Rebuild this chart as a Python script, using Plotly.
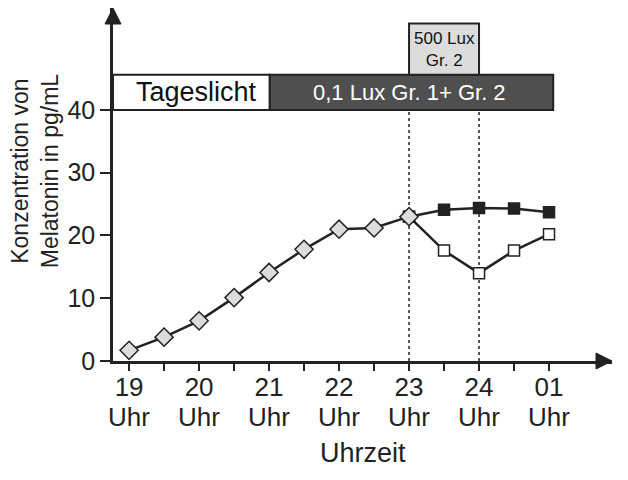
import plotly.graph_objects as go

# ===== DATA =====
hours_day = [19, 19.5, 20, 20.5, 21, 21.5, 22, 22.5, 23]
mel_day = [1.7, 3.8, 6.4, 10.1, 14.1, 17.8, 21.0, 21.2, 23.0]

hours_night = [23, 23.5, 24, 24.5, 25]
mel_gr1 = [23.0, 24.1, 24.4, 24.3, 23.7]   # 0,1 Lux (gefuellte Quadrate)
mel_gr2 = [23.0, 17.6, 14.0, 17.6, 20.2]   # 500 Lux (offene Quadrate)

hour_ticks = [19, 20, 21, 22, 23, 24, 25]
hour_labels = ["19", "20", "21", "22", "23", "24", "01"]
y_ticks = [0, 10, 20, 30, 40]

# Lichtphasen (Beginn/Ende in Stunden)
phase_day = [18.77, 21.01]
phase_dark = [21.01, 25.06]
phase_lux = [23, 24]

# ===== SETTINGS =====
FONT = "Liberation Sans, Arial, sans-serif"
INK = "#222222"
X_RANGE = [18.77, 25.9]
Y_RANGE = [0, 56.25]
PLOT_W, PLOT_H = 499, 353   # Pixel der Plotflaeche

fig = go.Figure()

# Schwarze Quadrate (Gr. 1)
fig.add_trace(go.Scatter(
    x=hours_night, y=mel_gr1, mode="lines+markers",
    line=dict(color=INK, width=2.5),
    marker=dict(symbol="square", size=11, color="#222222", line=dict(color=INK, width=1.5)),
    showlegend=False, cliponaxis=False,
))
# Offene Quadrate (Gr. 2)
fig.add_trace(go.Scatter(
    x=hours_night, y=mel_gr2, mode="lines+markers",
    line=dict(color=INK, width=2.5),
    marker=dict(symbol="square", size=11, color="white", line=dict(color=INK, width=1.5)),
    showlegend=False, cliponaxis=False,
))
# Rauten (Tageslicht)
fig.add_trace(go.Scatter(
    x=hours_day, y=mel_day, mode="lines+markers",
    line=dict(color=INK, width=2.5),
    marker=dict(symbol="diamond", size=14, color="#dcdcdc", line=dict(color=INK, width=1.5)),
    showlegend=False, cliponaxis=False,
))

# ===== Lichtbalken =====
bar_lo, bar_hi, box_hi = 40, 45.6, 53.8
fig.add_shape(type="rect", x0=phase_day[0], x1=phase_day[1], y0=bar_lo, y1=bar_hi,
              fillcolor="white", line=dict(color=INK, width=2), layer="above")
fig.add_shape(type="rect", x0=phase_dark[0], x1=phase_dark[1], y0=bar_lo, y1=bar_hi,
              fillcolor="#4f4f4f", line=dict(color=INK, width=2), layer="above")
fig.add_shape(type="rect", x0=phase_lux[0], x1=phase_lux[1], y0=bar_hi, y1=box_hi,
              fillcolor="#dcdcdc", line=dict(color=INK, width=2), layer="above")

# Gepunktete Linien
for h in phase_lux:
    fig.add_shape(type="line", x0=h, x1=h, y0=0, y1=bar_lo,
                  line=dict(color=INK, width=1.5, dash="dot"), layer="below")

fig.add_annotation(x=19.97, y=(bar_lo + bar_hi) / 2, text="Tageslicht", showarrow=False,
                   font=dict(family=FONT, size=27, color="#111111"))
fig.add_annotation(x=23.0, y=(bar_lo + bar_hi) / 2, text="0,1 Lux Gr. 1+ Gr. 2", showarrow=False,
                   font=dict(family=FONT, size=22, color="white"))
fig.add_annotation(x=23.5, y=(bar_hi + box_hi) / 2, text="500 Lux<br>Gr. 2", showarrow=False,
                   font=dict(family=FONT, size=17, color="#111111"))

# "Uhr" unter jeder Stundenzahl
for h in hour_ticks:
    fig.add_annotation(x=h, xref="x", yref="paper", y=-0.159, text="Uhr", showarrow=False,
                       yanchor="middle", font=dict(family=FONT, size=26, color=INK))

# Achsentitel
fig.add_annotation(xref="paper", yref="paper", x=-0.156, y=0.538, textangle=-90,
                   text="Konzentration von<br>Melatonin in pg/mL", showarrow=False,
                   xanchor="center", yanchor="middle",
                   font=dict(family=FONT, size=23, color=INK))
fig.add_annotation(xref="paper", yref="paper", x=0.5, y=-0.262,
                   text="Uhrzeit", showarrow=False, xanchor="center", yanchor="middle",
                   font=dict(family=FONT, size=27, color=INK))

# Pfeilspitzen an den Achsen
pw, ph = 8 / PLOT_W, 16 / PLOT_H
fig.add_shape(type="path", xref="paper", yref="paper",
              path=f"M {-pw} {1 - ph} L 0 1 L {pw} {1 - ph} Z",
              fillcolor=INK, line=dict(color=INK, width=1))
aw, ah = 16 / PLOT_W, 8 / PLOT_H
fig.add_shape(type="path", xref="paper", yref="paper",
              path=f"M {1 - aw} {-ah} L 1 0 L {1 - aw} {ah} Z",
              fillcolor=INK, line=dict(color=INK, width=1))

# ===== Achsen =====
tick_vals = [h + d for h in hour_ticks for d in (0, 0.5)][:-1]
tick_text = [lab if d == 0 else "" for lab in hour_labels for d in (0, 0.5)][:-1]

fig.update_xaxes(range=X_RANGE, showgrid=False, zeroline=False,
                 showline=True, linecolor=INK, linewidth=2.5,
                 ticks="outside", ticklen=7, tickwidth=2, tickcolor=INK,
                 tickvals=tick_vals, ticktext=tick_text, ticklabelstandoff=-6,
                 tickfont=dict(family=FONT, size=26, color=INK))
fig.update_yaxes(range=Y_RANGE, showgrid=False, zeroline=False,
                 showline=True, linecolor=INK, linewidth=2.5,
                 ticks="outside", ticklen=10, tickwidth=2, tickcolor=INK,
                 tickvals=y_ticks, tickfont=dict(family=FONT, size=25, color=INK))

# Seite hat 8 px Rand -> Plotflaeche entsprechend verschoben
fig.update_layout(width=628, height=480,
                  margin=dict(l=105, r=628 - 105 - PLOT_W, t=0, b=480 - PLOT_H),
                  plot_bgcolor="white", paper_bgcolor="white")

fig.write_html("out.html")
